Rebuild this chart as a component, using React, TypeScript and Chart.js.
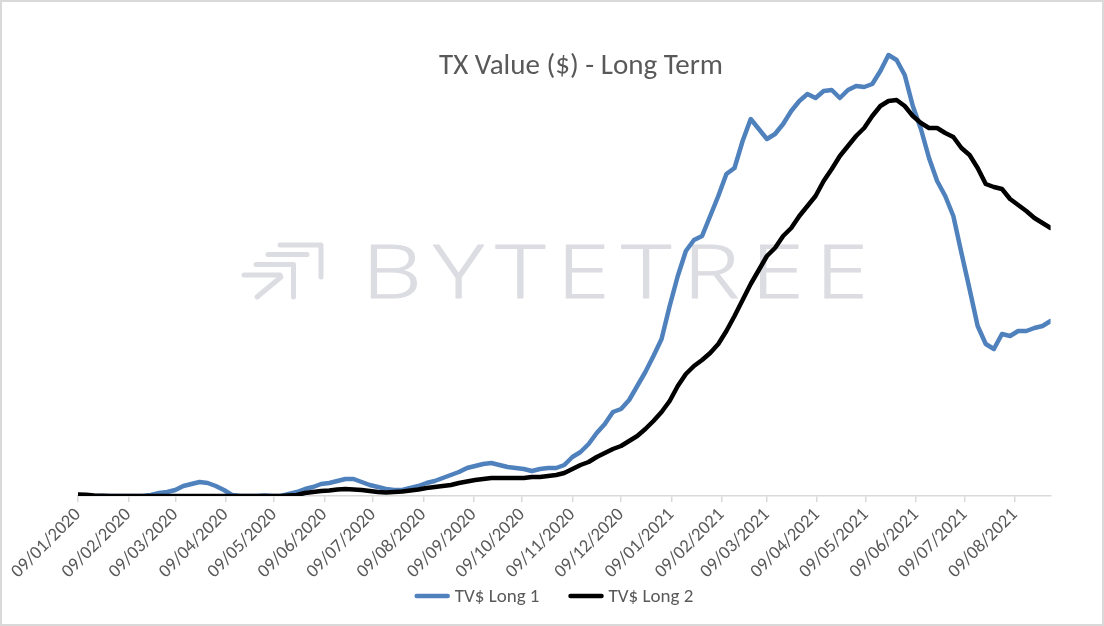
import React, { useEffect, useRef } from "react";
import { Chart, registerables } from "chart.js";

Chart.register(...registerables);

// Day offsets from 09/01/2020 (dd/mm/yyyy) for the monthly tick marks
const tickDays = [0, 31, 60, 91, 121, 152, 182, 213, 244, 274, 305, 335, 366, 397, 425, 456, 486, 517, 547, 578];
const tickLabels = [
  "09/01/2020", "09/02/2020", "09/03/2020", "09/04/2020", "09/05/2020", "09/06/2020", "09/07/2020",
  "09/08/2020", "09/09/2020", "09/10/2020", "09/11/2020", "09/12/2020", "09/01/2021", "09/02/2021",
  "09/03/2021", "09/04/2021", "09/05/2021", "09/06/2021", "09/07/2021", "09/08/2021",
];

// Sample days (offset from 09/01/2020)
const days = [
  0, 5, 10, 15, 20, 25, 30, 35, 40, 45, 50, 55, 60, 65, 70, 75, 80, 85, 90, 95,
  100, 105, 110, 115, 120, 125, 130, 135, 140, 145, 150, 155, 160, 165, 170, 175, 180, 185, 190, 195,
  200, 205, 210, 215, 220, 225, 230, 235, 240, 245, 250, 255, 260, 265, 270, 275, 280, 285, 290, 295,
  300, 305, 310, 315, 320, 325, 330, 335, 340, 345, 350, 355, 360, 365, 370, 375, 380, 385, 390, 395,
  400, 405, 410, 415, 420, 425, 430, 435, 440, 445, 450, 455, 460, 465, 470, 475, 480, 485, 490, 495,
  500, 505, 510, 515, 520, 525, 530, 535, 540, 545, 550, 555, 560, 565, 570, 575, 580, 585, 590, 595,
  600,
];

const long1 = [
  0, 0, 0, 0, 0, 0, 0, 0, 0, 0.1, 0.3, 0.4, 0.6, 1.0, 1.2, 1.4, 1.3, 1.0, 0.6, 0.1,
  0, 0, 0, 0.05, 0, 0, 0.2, 0.4, 0.7, 0.9, 1.2, 1.3, 1.5, 1.7, 1.7, 1.4, 1.1, 0.9, 0.7, 0.6,
  0.6, 0.8, 1.0, 1.3, 1.5, 1.8, 2.1, 2.4, 2.8, 3.0, 3.2, 3.3, 3.1, 2.9, 2.8, 2.7, 2.5, 2.7, 2.8, 2.8,
  3.1, 3.9, 4.4, 5.2, 6.3, 7.2, 8.4, 8.7, 9.6, 11.0, 12.4, 14.0, 15.7, 19.0, 22.0, 24.5, 25.6, 26.0, 28.0, 30.0,
  32.2, 32.8, 35.5, 37.7, 36.7, 35.7, 36.2, 37.2, 38.5, 39.5, 40.2, 39.8, 40.5, 40.6, 39.8, 40.6, 41.0, 40.9, 41.2, 42.5,
  44.1, 43.6, 42.1, 39.0, 36.7, 33.8, 31.5, 30.0, 28.0, 24.3, 20.7, 17.0, 15.2, 14.7, 16.2, 16.0, 16.5, 16.5, 16.8, 17.0,
  17.5,
];

const long2 = [
  0.15, 0.12, 0.06, 0.03, 0, 0, 0, 0, 0, 0, 0, 0, 0, 0, 0, 0, 0, 0, 0, 0,
  0, 0, 0, 0, 0, 0, 0.05, 0.1, 0.3, 0.4, 0.5, 0.55, 0.65, 0.7, 0.65, 0.6, 0.5, 0.4, 0.35, 0.4,
  0.45, 0.55, 0.65, 0.8, 0.9, 1.0, 1.1, 1.3, 1.45, 1.6, 1.7, 1.8, 1.8, 1.8, 1.8, 1.8, 1.9, 1.9, 2.0, 2.1,
  2.3, 2.7, 3.1, 3.4, 3.9, 4.3, 4.7, 5.0, 5.5, 6.0, 6.7, 7.5, 8.4, 9.5, 11.0, 12.2, 13.0, 13.6, 14.3, 15.2,
  16.5, 18.0, 19.6, 21.2, 22.6, 24.0, 24.8, 26.0, 26.8, 28.0, 29.0, 30.0, 31.5, 32.7, 34.0, 35.0, 36.0, 36.8, 38.0, 39.0,
  39.5, 39.6, 39.0, 38.0, 37.3, 36.8, 36.8, 36.3, 35.9, 34.8, 34.1, 32.8, 31.2, 30.9, 30.7, 29.7, 29.1, 28.5, 27.8, 27.3,
  26.8,
];

const seriesNames = ["TV$ Long 1", "TV$ Long 2"];
const seriesColors = ["#4F81BD", "#000000"];
const titleText = "TX Value ($) - Long Term";
const watermarkText = "BYTETREE";

const FONT = "Carlito, Calibri, Lato, 'Open Sans', sans-serif";
const TEXT = "#595959";
const AXIS = "#d9d9d9";
const MARK = "#dcdde2";

export default function App() {
  const ref = useRef<HTMLCanvasElement | null>(null);

  useEffect(() => {
    if (!ref.current) return;

    const watermark = {
      id: "watermark",
      beforeDatasetsDraw(chart: any) {
        const ctx = chart.ctx as CanvasRenderingContext2D;
        ctx.save();
        ctx.strokeStyle = MARK;
        ctx.lineWidth = 5;
        ctx.lineCap = "round";
        ctx.lineJoin = "round";
        const seg = (pts: number[][]) => {
          ctx.beginPath();
          ctx.moveTo(pts[0][0], pts[0][1]);
          for (let i = 1; i < pts.length; i++) ctx.lineTo(pts[i][0], pts[i][1]);
          ctx.stroke();
        };
        seg([[280, 245], [321, 245], [321, 277]]);
        seg([[268, 254.5], [307, 254.5]]);
        seg([[256, 264.5], [293.5, 264.5], [293.5, 297]]);
        seg([[244, 275], [280, 275]]);
        seg([[281, 277], [257, 297]]);
        ctx.fillStyle = MARK;
        ctx.font = "300 73px 'Open Sans', Lato, sans-serif";
        ctx.textBaseline = "alphabetic";
        ctx.textAlign = "left";
        const sx = 1.3;
        const w0 = ctx.measureText(watermarkText).width;
        const spacing = ((870 - 364) / sx - w0) / (watermarkText.length - 1);
        (ctx as any).letterSpacing = spacing + "px";
        ctx.translate(362, 298);
        ctx.scale(sx, 1);
        ctx.fillText(watermarkText, 0, 0);
        ctx.lineWidth = 1.1;
        ctx.strokeStyle = MARK;
        ctx.strokeText(watermarkText, 0, 0);
        ctx.restore();
      },
    };

    const titleLegendFrame = {
      id: "titleLegendFrame",
      afterDraw(chart: any) {
        const ctx = chart.ctx as CanvasRenderingContext2D;
        ctx.save();
        // title
        ctx.fillStyle = TEXT;
        ctx.font = "29px " + FONT;
        ctx.textAlign = "center";
        ctx.textBaseline = "alphabetic";
        ctx.fillText(titleText, 581, 73.5);
        // legend
        ctx.font = "19px " + FONT;
        ctx.textAlign = "left";
        ctx.textBaseline = "middle";
        const lineLen = 31;
        const gap = 5;
        const itemGap = 31;
        const widths = seriesNames.map((n) => lineLen + 2 + gap + ctx.measureText(n).width);
        const total = widths.reduce((a, b) => a + b, 0) + itemGap * (widths.length - 1) + 2;
        let x = 554 - total / 2 + 2;
        const y = 596;
        seriesNames.forEach((n, i) => {
          ctx.strokeStyle = seriesColors[i];
          ctx.lineWidth = 4.5;
          ctx.lineCap = "round";
          ctx.beginPath();
          ctx.moveTo(x, y);
          ctx.lineTo(x + lineLen, y);
          ctx.stroke();
          ctx.fillStyle = TEXT;
          ctx.fillText(n, x + lineLen + 2 + gap, y + 1);
          x += widths[i] + itemGap;
        });
        // frame
        ctx.strokeStyle = AXIS;
        ctx.lineWidth = 2;
        ctx.strokeRect(1, 1, chart.width - 2, chart.height - 2);
        ctx.restore();
      },
    };

    const chart = new Chart(ref.current, {
      type: "line",
      data: {
        datasets: [
          {
            label: seriesNames[0],
            data: days.map((d, i) => ({ x: d, y: long1[i] })),
            borderColor: seriesColors[0],
            backgroundColor: seriesColors[0],
            borderWidth: 4.5,
            pointRadius: 0,
            tension: 0,
            borderCapStyle: "round",
            borderJoinStyle: "round",
            order: 2,
          },
          {
            label: seriesNames[1],
            data: days.map((d, i) => ({ x: d, y: long2[i] })),
            borderColor: seriesColors[1],
            backgroundColor: seriesColors[1],
            borderWidth: 4.5,
            pointRadius: 0,
            tension: 0,
            borderCapStyle: "round",
            borderJoinStyle: "round",
            order: 1,
          },
        ],
      },
      options: {
        animation: false,
        responsive: true,
        maintainAspectRatio: false,
        events: [],
        layout: { padding: { left: 78, right: 53.4, top: 46, bottom: 30 } },
        scales: {
          x: {
            type: "linear",
            min: 0,
            max: 600,
            afterBuildTicks: (s: any) => {
              s.ticks = tickDays.map((v) => ({ value: v }));
            },
            afterFit: (s: any) => {
              s.height = 100;
            },
            ticks: {
              autoSkip: false,
              minRotation: 45,
              maxRotation: 45,
              color: TEXT,
              padding: 2,
              font: { family: FONT, size: 18.5 },
              callback: (_v: any, i: number) => tickLabels[i],
            },
            grid: {
              drawOnChartArea: false,
              drawTicks: true,
              tickLength: 6,
              color: AXIS,
              lineWidth: 1.5,
            },
            border: { color: AXIS, width: 1.5 },
          },
          y: { display: false, min: 0, max: 45 },
        },
        plugins: {
          legend: { display: false },
          tooltip: { enabled: false },
          title: { display: false },
        },
      } as any,
      plugins: [watermark, titleLegendFrame],
    });

    return () => chart.destroy();
  }, []);

  return (
    <div style={{ position: "fixed", left: 0, top: 0, width: 1104, height: 626, background: "#ffffff" }}>
      <canvas ref={ref} />
    </div>
  );
}
